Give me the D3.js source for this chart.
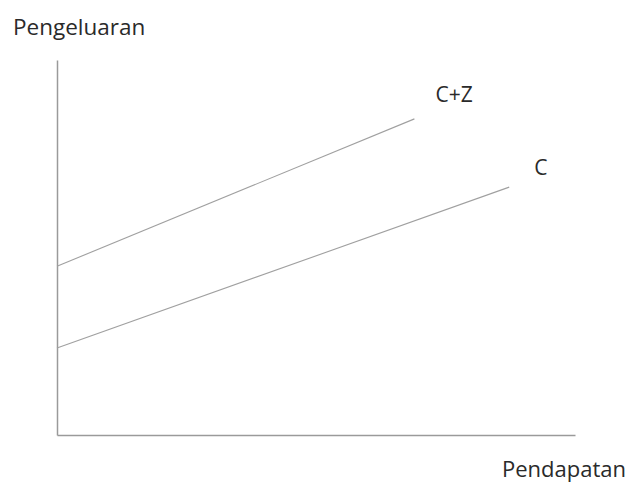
<!DOCTYPE html>
<html>
<head>
<meta charset="utf-8">
<script src="https://cdn.jsdelivr.net/npm/d3@7"></script>
<style>
  body { margin: 0; background: #fff; }
  text { font-family: "Open Sans", sans-serif; fill: #2a2a2a; }
</style>
</head>
<body>
<div id="chart"></div>
<script>
// data (no units, just a sketch)
var seriesNames = ["C+Z", "C"];
var czIncome = [0, 69];
var czSpend = [45, 84.3];
var cIncome = [0, 87.3];
var cSpend = [23.2, 66.1];

var svgWidth = 630;
var svgHeight = 484;

var margin = { top: 60, right: 55, bottom: 49, left: 57 };
var width = svgWidth - margin.left - margin.right;
var height = svgHeight - margin.top - margin.bottom;

var svg = d3.select("#chart")
    .append("svg")
    .attr("width", svgWidth)
    .attr("height", svgHeight);

var chartGroup = svg.append("g")
    .attr("transform", `translate(${margin.left}, ${margin.top})`);

var xScale = d3.scaleLinear().domain([0, 100]).range([0, width]);
var yScale = d3.scaleLinear().domain([0, 100]).range([height, 0]);

// axes without ticks
var bottomAxis = d3.axisBottom(xScale).ticks(0).tickSize(0).tickFormat("");
var leftAxis = d3.axisLeft(yScale).ticks(0).tickSize(0).tickFormat("");

chartGroup.append("g")
    .attr("transform", `translate(0, ${height})`)
    .call(bottomAxis)
    .select(".domain")
    .attr("stroke", "#9a9a9a")
    .attr("stroke-width", 1.5);

chartGroup.append("g")
    .call(leftAxis)
    .select(".domain")
    .attr("stroke", "#9a9a9a")
    .attr("stroke-width", 1.5);

var line = d3.line()
    .x(d => xScale(d[0]))
    .y(d => yScale(d[1]));

var series = [
    { name: seriesNames[0], pts: d3.zip(czIncome, czSpend), dx: 21, dy: -17 },
    { name: seriesNames[1], pts: d3.zip(cIncome, cSpend), dx: 25, dy: -12 }
];

series.forEach(function(s) {
    chartGroup.append("path")
        .datum(s.pts)
        .attr("fill", "none")
        .attr("stroke", "#a0a0a0")
        .attr("stroke-width", 1.1)
        .attr("d", line);

    var last = s.pts[s.pts.length - 1];
    chartGroup.append("text")
        .attr("x", xScale(last[0]) + s.dx)
        .attr("y", yScale(last[1]) + s.dy)
        .attr("font-size", "21px")
        .text(s.name);
});

// axis titles
svg.append("text")
    .attr("x", 13)
    .attr("y", 35)
    .attr("font-size", "22.5px")
    .text("Pengeluaran");

svg.append("text")
    .attr("x", 502)
    .attr("y", 477)
    .attr("font-size", "22px")
    .text("Pendapatan");
</script>
</body>
</html>
